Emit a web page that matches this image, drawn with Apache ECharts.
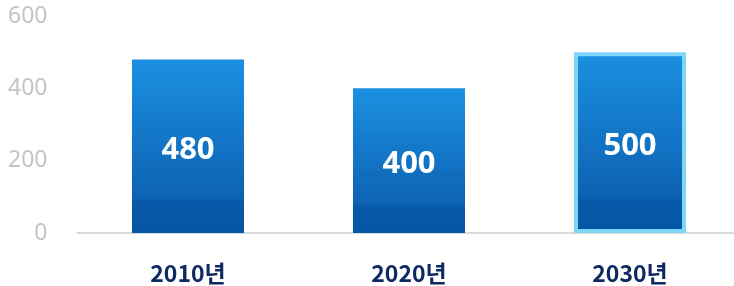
<!DOCTYPE html>
<html>
<head>
<meta charset="utf-8">
<script src="https://cdn.jsdelivr.net/npm/echarts@6/dist/echarts.min.js"></script>
<style>
  html, body { margin: 0; padding: 0; background: #fff; }
  #chart { width: 734px; height: 286px; }
</style>
</head>
<body>
<div id="chart"></div>
<script>
const categories = ["2010년", "2020년", "2030년"];
const values = [480, 400, 500];
const highlightIndex = 2;

const barGradient = new echarts.graphic.LinearGradient(0, 0, 0, 1, [
  { offset: 0, color: "#1b90e1" },
  { offset: 0.8, color: "#0d62b3" },
  { offset: 0.82, color: "#0859a9" },
  { offset: 1, color: "#0556a5" }
]);

const chart = echarts.init(document.getElementById("chart"));

chart.setOption({
  animation: false,
  grid: {
    left: 77.5, width: 663, top: 16, height: 217,
    outerBoundsMode: "none",
    containLabel: false
  },
  xAxis: {
    type: "category",
    data: categories,
    axisTick: { show: false },
    axisLine: { lineStyle: { color: "#d9d9d9", width: 2 } },
    axisLabel: {
      margin: 29,
      color: "#0f2a63",
      fontSize: 23,
      fontWeight: "bold",
      fontFamily: "Noto Sans CJK KR"
    }
  },
  yAxis: {
    type: "value",
    min: 0,
    max: 600,
    interval: 200,
    splitLine: { show: false },
    axisLine: { show: false },
    axisLabel: {
      margin: 30,
      color: "#c4c4c4",
      fontSize: 23,
      fontFamily: "Noto Sans"
    }
  },
  series: [{
    type: "bar",
    barWidth: 112,
    data: values.map((v, i) => ({
      value: v,
      itemStyle: i === highlightIndex
        ? { color: barGradient, borderColor: "#7dd6f6", borderWidth: 4 }
        : { color: barGradient }
    })),
    label: {
      show: true,
      position: "inside",
      offset: [0, 4],
      color: "#fff",
      fontSize: 31,
      fontWeight: "bold",
      fontFamily: "Noto Sans"
    }
  }]
});
</script>
</body>
</html>
